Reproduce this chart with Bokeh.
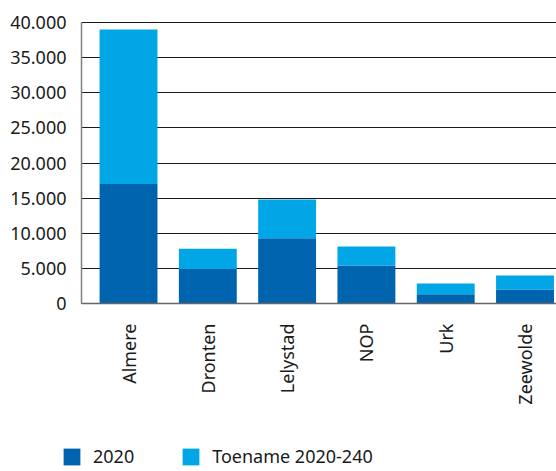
import math
from bokeh.plotting import figure
from bokeh.models import (ColumnDataSource, Range1d, FixedTicker, CustomJSTickFormatter,
                          Legend, LegendItem)
from bokeh.embed import file_html
from bokeh.resources import INLINE

gemeenten = ["Almere", "Dronten", "Lelystad", "NOP", "Urk", "Zeewolde"]
waarde_2020 = [17000, 4900, 9300, 5400, 1300, 2000]
toename = [22000, 2900, 5500, 2700, 1550, 2000]
y_ticks = [0, 5000, 10000, 15000, 20000, 25000, 30000, 35000, 40000]
series_labels = ["2020", "Toename 2020-240"]

DARK = "#0063ad"
LIGHT = "#00a6e6"
FONT = "Noto Sans"
TXT = "#1a1a1a"

xs = list(range(len(gemeenten)))
source = ColumnDataSource(dict(x=xs, v2020=waarde_2020, toename=toename))

# frame covers the whole page; value 0 sits at y=303, 40000 at y=22, y axis at x=81
Y_TOP = 40000
UNIT = Y_TOP / 281
Y_MAX = Y_TOP + 22 * UNIT
Y_MIN = -168 * UNIT
X_AXIS_POS = -0.593
X_MAX = 5.397
X_MIN = X_AXIS_POS - 81 / 79.3

p = figure(width=556, height=471, output_backend="svg", toolbar_location=None,
           x_range=Range1d(X_MIN, X_MAX), y_range=Range1d(Y_MIN, Y_MAX),
           min_border_left=0, min_border_right=0, min_border_top=0,
           min_border_bottom=0)
p.outline_line_color = None

renderers = p.vbar_stack(["v2020", "toename"], x="x", width=0.73,
                         color=[DARK, LIGHT], source=source, line_color=None)

# Y axis, pinned at the left edge of the bars area
p.yaxis.fixed_location = X_AXIS_POS
p.yaxis.ticker = FixedTicker(ticks=y_ticks)
p.yaxis.bounds = (0, Y_TOP)
p.yaxis.formatter = CustomJSTickFormatter(
    code="return Math.round(tick).toString().replace(/\\B(?=(\\d{3})+(?!\\d))/g, '.');")
p.yaxis.major_label_text_font = FONT
p.yaxis.major_label_text_font_size = "18px"
p.yaxis.major_label_text_color = TXT
p.yaxis.major_tick_line_color = None
p.yaxis.minor_tick_line_color = None
p.yaxis.axis_line_color = "#808080"
p.yaxis.axis_line_width = 1.5
p.yaxis.major_label_standoff = 9

# X axis, pinned at value 0
p.xaxis.fixed_location = 0
p.xaxis.bounds = (X_AXIS_POS, X_MAX)
p.xaxis.ticker = FixedTicker(ticks=xs)
p.xaxis.major_label_overrides = {i: g for i, g in enumerate(gemeenten)}
p.xaxis.major_label_orientation = math.pi / 2
p.xaxis.major_label_text_font = FONT
p.xaxis.major_label_text_font_size = "18px"
p.xaxis.major_label_text_color = TXT
p.xaxis.major_tick_line_color = None
p.xaxis.minor_tick_line_color = None
p.xaxis.axis_line_color = "#666666"
p.xaxis.axis_line_width = 1.5
p.xaxis.major_label_standoff = 14

p.xgrid.grid_line_color = None
p.ygrid.grid_line_color = "#1a1a1a"
p.ygrid.grid_line_width = 1.2
p.ygrid.bounds = (0, Y_TOP)
p.ygrid.cross_bounds = (X_AXIS_POS, X_MAX)

legend = Legend(items=[LegendItem(label=series_labels[0], renderers=[renderers[0]]),
                       LegendItem(label=series_labels[1], renderers=[renderers[1]])],
                orientation="horizontal", location=(61, 3))
legend.label_text_font = FONT
legend.label_text_font_size = "18px"
legend.label_text_color = TXT
legend.glyph_width = 21
legend.glyph_height = 21
legend.label_height = 21
legend.label_standoff = 11
legend.spacing = 46
legend.padding = 0
legend.margin = 0
legend.border_line_color = None
legend.background_fill_alpha = 0
p.add_layout(legend, "center")

open("out.html", "w").write(file_html(p, INLINE))
